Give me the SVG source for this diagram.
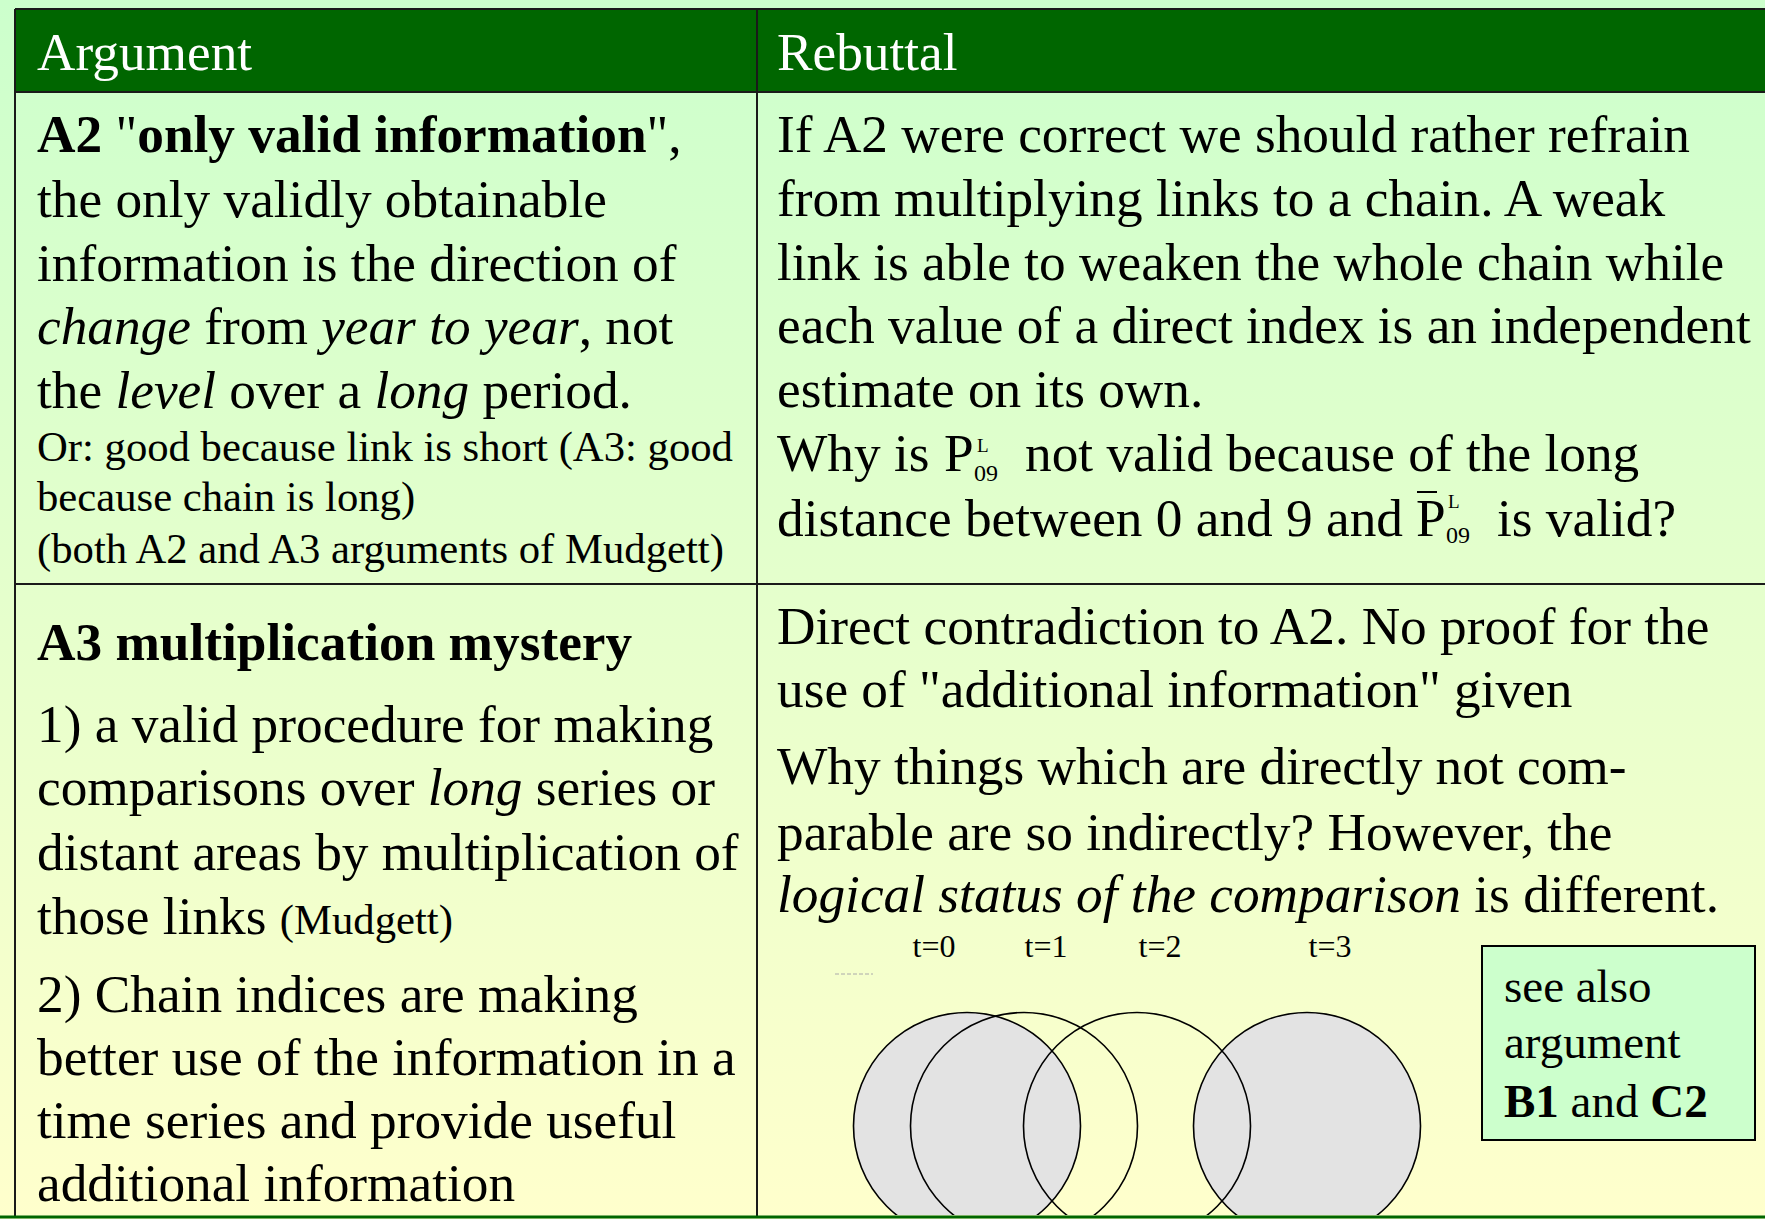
<svg xmlns="http://www.w3.org/2000/svg" width="1765" height="1219" viewBox="0 0 1765 1219">
  <defs>
    <linearGradient id="bg" x1="0" y1="0" x2="0" y2="1">
      <stop offset="0" stop-color="#ccffcc"/>
      <stop offset="1" stop-color="#ffffcc"/>
    </linearGradient>
    <clipPath id="tableClip">
      <rect x="757" y="585" width="1008" height="630"/>
    </clipPath>
    <style>
      text { font-family: "Liberation Serif", "Times New Roman", serif; fill: #000; }
      .b { font-size: 53.3px; }
      .s { font-size: 42.7px; }
      .hd { font-size: 53.3px; fill: #ffffff; }
      .t { font-size: 32px; text-anchor: middle; }
      .box { font-size: 47px; }
      .bold { font-weight: bold; }
      .it { font-style: italic; }
      .grid { stroke: #1a1a1a; stroke-width: 2; fill: none; }
      .circ { stroke: #000; stroke-width: 1.6; }
    </style>
  </defs>

  <rect x="0" y="0" width="1765" height="1219" fill="url(#bg)"/>

  <g id="header">
    <rect x="15" y="9" width="1752" height="83" fill="#006600"/>
    <text class="hd" x="37" y="70">Argument</text>
    <text class="hd" x="777" y="70">Rebuttal</text>
  </g>

  <g id="grid">
    <line class="grid" x1="15" y1="9" x2="1765" y2="9"/>
    <line class="grid" x1="15" y1="92" x2="1765" y2="92"/>
    <line class="grid" x1="15" y1="584" x2="1765" y2="584"/>
    <line class="grid" x1="15" y1="9" x2="15" y2="1216"/>
    <line class="grid" x1="757" y1="9" x2="757" y2="1216"/>
    <line x1="0" y1="1217" x2="1765" y2="1217" stroke="#006600" stroke-width="3"/>
  </g>

  <g id="cell-a2">
    <text class="b" x="37" y="152"><tspan class="bold">A2 </tspan>"<tspan class="bold">only valid information</tspan>",</text>
    <text class="b" x="37" y="217">the only validly obtainable</text>
    <text class="b" x="37" y="281">information is the direction of</text>
    <text class="b" x="37" y="344"><tspan class="it">change</tspan> from <tspan class="it">year to year</tspan>, not</text>
    <text class="b" x="37" y="408">the <tspan class="it">level</tspan> over a <tspan class="it">long</tspan> period.</text>
    <text class="s" x="37" y="461">Or: good because link is short (A3: good</text>
    <text class="s" x="37" y="511">because chain is long)</text>
    <text class="s" x="37" y="563">(both A2 and A3 arguments of Mudgett)</text>
  </g>

  <g id="cell-a2-rebuttal">
    <text class="b" x="777" y="152">If A2 were correct we should rather refrain</text>
    <text class="b" x="777" y="216">from multiplying links to a chain. A weak</text>
    <text class="b" x="777" y="280">link is able to weaken the whole chain while</text>
    <text class="b" x="777" y="343">each value of a direct index is an independent</text>
    <text class="b" x="777" y="407">estimate on its own.</text>
    <text class="b" x="777" y="471">Why is </text>
    <text class="b" x="944" y="471">P</text>
    <text x="977" y="452" font-size="19">L</text>
    <text x="974" y="481" font-size="24">09</text>
    <text class="b" x="1025" y="471">not valid because of the long</text>
    <text class="b" x="777" y="536">distance between 0 and 9 and</text>
    <text class="b" x="1416" y="536">P</text>
    <line x1="1417" y1="492" x2="1437" y2="492" stroke="#000" stroke-width="2"/>
    <text x="1448" y="508" font-size="19">L</text>
    <text x="1446" y="543" font-size="24">09</text>
    <text class="b" x="1497" y="536">is valid?</text>
  </g>

  <g id="cell-a3">
    <text class="b bold" x="37" y="660">A3 multiplication mystery</text>
    <text class="b" x="37" y="742">1) a valid procedure for making</text>
    <text class="b" x="37" y="805">comparisons over <tspan class="it">long</tspan> series or</text>
    <text class="b" x="37" y="870">distant areas by multiplication of</text>
    <text class="b" x="37" y="934">those links <tspan font-size="42.7">(Mudgett)</tspan></text>
    <text class="b" x="37" y="1012">2) Chain indices are making</text>
    <text class="b" x="37" y="1075">better use of the information in a</text>
    <text class="b" x="37" y="1138">time series and provide useful</text>
    <text class="b" x="37" y="1201">additional information</text>
  </g>

  <g id="cell-a3-rebuttal">
    <text class="b" x="777" y="644">Direct contradiction to A2. No proof for the</text>
    <text class="b" x="777" y="707">use of "additional information" given</text>
    <text class="b" x="777" y="784">Why things which are directly not com-</text>
    <text class="b" x="777" y="850">parable are so indirectly? However, the</text>
    <text class="b" x="777" y="912"><tspan class="it">logical status of the comparison</tspan> is different.</text>
  </g>

  <g id="time-diagram">
    <text class="t" x="934" y="957">t=0</text>
    <text class="t" x="1046" y="957">t=1</text>
    <text class="t" x="1160" y="957">t=2</text>
    <text class="t" x="1330" y="957">t=3</text>
    <line x1="835" y1="974" x2="873" y2="974" stroke="#aaaaaa" stroke-width="1" stroke-dasharray="4 2"/>
    <g clip-path="url(#tableClip)">
      <circle cx="967" cy="1126" r="113.5" fill="#e3e3e3"/>
      <circle cx="1307" cy="1126" r="113.5" fill="#e3e3e3"/>
      <circle class="circ" cx="967" cy="1126" r="113.5" fill="none"/>
      <circle class="circ" cx="1024" cy="1126" r="113.5" fill="none"/>
      <circle class="circ" cx="1137" cy="1126" r="113.5" fill="none"/>
      <circle class="circ" cx="1307" cy="1126" r="113.5" fill="none"/>
    </g>
  </g>

  <g id="see-also">
    <rect x="1482" y="946" width="273" height="194" fill="#ccffcc" stroke="#000" stroke-width="2"/>
    <text class="box" x="1504" y="1002">see also</text>
    <text class="box" x="1504" y="1058">argument</text>
    <text class="box" x="1504" y="1117"><tspan class="bold">B1</tspan> and <tspan class="bold">C2</tspan></text>
  </g>

  <g id="connectors"/>
</svg>
